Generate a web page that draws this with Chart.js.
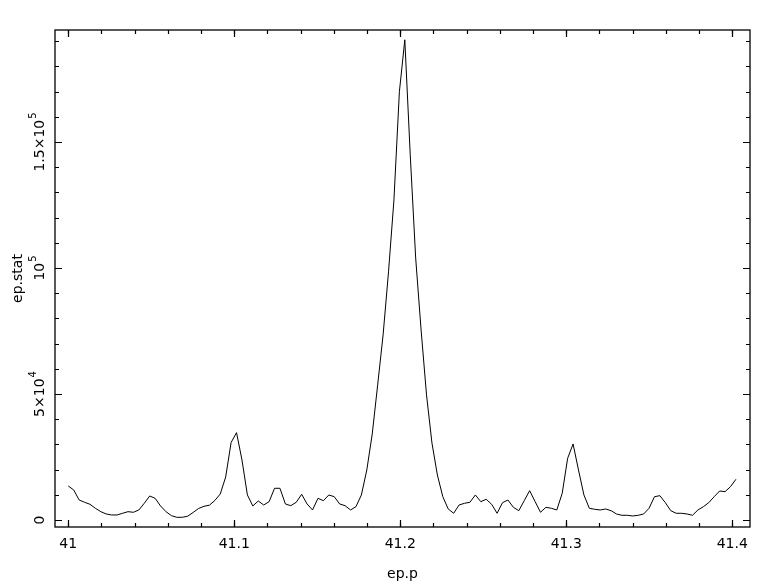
<!DOCTYPE html>
<html>
<head>
<meta charset="utf-8">
<script src="https://cdn.jsdelivr.net/npm/chart.js@4.4.1/dist/chart.umd.min.js"></script>
<style>
  html, body { margin: 0; padding: 0; background: #fff; }
  #wrap { width: 783px; height: 587px; }
</style>
</head>
<body>
<div id="wrap"><canvas id="c" width="783" height="587"></canvas></div>
<script>
// ---- data ----
const epStart = 41.0;      // first sample of ep.p
const epStep = 0.00327;    // sampling step of ep.p
const epStat = [
  13500, 11910, 7940, 7030, 6230, 4640, 3300, 2380, 1990, 1990,
  2660, 3300, 3060, 3970, 6630, 9530, 8610, 5560, 3300, 1710,
  1070, 1070, 1510, 2980, 4570, 5440, 5880, 7740, 10320, 17070,
  30770, 34660, 23820, 9930, 5560, 7540, 5960, 7270, 12580, 12580,
  6350, 5680, 7030, 10200, 6350, 3970, 8610, 7660, 9930, 9250,
  6350, 5680, 3970, 5280, 9930, 19850, 34140, 53600, 73450, 98460,
  127040, 169920, 190560, 144900, 104010, 75430, 49630, 30570, 17870, 9250,
  4370, 2660, 5960, 6630, 7030, 9930, 7270, 8220, 6230, 2660,
  6870, 7940, 5040, 3690, 7660, 11630, 7340, 3060, 5040, 4640,
  3970, 10600, 24490, 30170, 19850, 9930, 4640, 4250, 3970, 4370,
  3690, 2380, 1870, 1870, 1590, 1870, 2380, 4640, 9250, 9650,
  6870, 3690, 2660, 2660, 2380, 1870, 3970, 5280, 6870, 9250,
  11510, 11240, 13220, 16160
];
const xTickValues = [41, 41.1, 41.2, 41.3, 41.4];
const xTickLabels = ['41', '41.1', '41.2', '41.3', '41.4'];
const yTickValues = [0, 50000, 100000, 150000];
const yTickBase = ['0', '5×10', '10', '1.5×10'];
const yTickExp = ['', '4', '5', '5'];
const xMinorStep = 0.02;
const yMinorStep = 10000;
const xTitle = 'ep.p';
const yTitle = 'ep.stat';

// ---- build points ----
const points = epStat.map((v, i) => ({ x: epStart + i * epStep, y: v }));

const FONT = 'DejaVu Sans';

const framePlugin = {
  id: 'frame',
  afterDraw(chart) {
    const ctx = chart.ctx;
    const a = chart.chartArea;
    const xs = chart.scales.x, ys = chart.scales.y;
    ctx.save();
    ctx.strokeStyle = '#000';
    ctx.lineWidth = 1.3;
    ctx.strokeRect(a.left, a.top, a.right - a.left, a.bottom - a.top);
    ctx.lineWidth = 1.2;
    const major = 7, minor = 4;
    const xMin = xs.min, xMax = xs.max;
    const drawX = (v, len) => {
      const px = Math.round(xs.getPixelForValue(v)) + 0.5;
      ctx.beginPath();
      ctx.moveTo(px, a.bottom); ctx.lineTo(px, a.bottom - len);
      ctx.moveTo(px, a.top); ctx.lineTo(px, a.top + len);
      ctx.stroke();
    };
    for (let k = 0; ; k++) {
      const v = xTickValues[0] + k * xMinorStep;
      if (v > xMax + 1e-9) break;
      drawX(v, minor);
    }
    for (let k = 1; ; k++) {
      const v = xTickValues[0] - k * xMinorStep;
      if (v < xMin - 1e-9) break;
      drawX(v, minor);
    }
    xTickValues.forEach(v => drawX(v, major));
    const drawY = (v, len) => {
      const py = Math.round(ys.getPixelForValue(v)) + 0.5;
      ctx.beginPath();
      ctx.moveTo(a.left, py); ctx.lineTo(a.left + len, py);
      ctx.moveTo(a.right, py); ctx.lineTo(a.right - len, py);
      ctx.stroke();
    };
    for (let k = 0; ; k++) {
      const v = k * yMinorStep;
      if (v > ys.max) break;
      drawY(v, minor);
    }
    yTickValues.forEach(v => drawY(v, major));
    ctx.fillStyle = '#000';
    ctx.textBaseline = 'alphabetic';
    ctx.textAlign = 'left';
    yTickValues.forEach((v, i) => {
      const py = ys.getPixelForValue(v);
      ctx.save();
      ctx.translate(44, py);
      ctx.rotate(-Math.PI / 2);
      ctx.font = '14px "' + FONT + '"';
      const wb = ctx.measureText(yTickBase[i]).width;
      ctx.font = '10px "' + FONT + '"';
      const we = yTickExp[i] ? ctx.measureText(yTickExp[i]).width + 1 : 0;
      const x0 = -(wb + we) / 2;
      ctx.font = '14px "' + FONT + '"';
      ctx.fillText(yTickBase[i], x0, 0);
      if (yTickExp[i]) {
        ctx.font = '10px "' + FONT + '"';
        ctx.fillText(yTickExp[i], x0 + wb + 1, -8.5);
      }
      ctx.restore();
    });
    ctx.restore();
  }
};

new Chart(document.getElementById('c'), {
  type: 'line',
  data: {
    datasets: [{
      data: points,
      borderColor: '#000',
      borderWidth: 1,
      pointRadius: 0,
      tension: 0,
      fill: false
    }]
  },
  options: {
    responsive: false,
    animation: false,
    devicePixelRatio: 1,
    layout: { padding: { top: 30, right: 33, left: 0, bottom: 0 } },
    plugins: { legend: { display: false }, tooltip: { enabled: false } },
    scales: {
      x: {
        type: 'linear',
        min: 40.992,
        max: 41.4107,
        afterBuildTicks: s => { s.ticks = xTickValues.map(v => ({ value: v })); },
        afterFit: s => { s.height = 60; },
        grid: { display: false },
        border: { display: false },
        ticks: {
          autoSkip: false,
          maxRotation: 0,
          minRotation: 0,
          padding: 1,
          color: '#000',
          font: { family: FONT, size: 14 },
          callback: (v, i) => xTickLabels[i]
        },
        title: {
          display: true,
          text: xTitle,
          color: '#000',
          font: { family: FONT, size: 14 },
          padding: { top: 0, bottom: 4 }
        }
      },
      y: {
        type: 'linear',
        min: -2780,
        max: 194440,
        afterFit: s => { s.width = 55; },
        grid: { display: false },
        border: { display: false },
        ticks: { display: false },
        title: {
          display: true,
          text: yTitle,
          color: '#000',
          font: { family: FONT, size: 14 },
          padding: { top: 10, bottom: 0 }
        }
      }
    }
  },
  plugins: [framePlugin]
});
</script>
</body>
</html>
